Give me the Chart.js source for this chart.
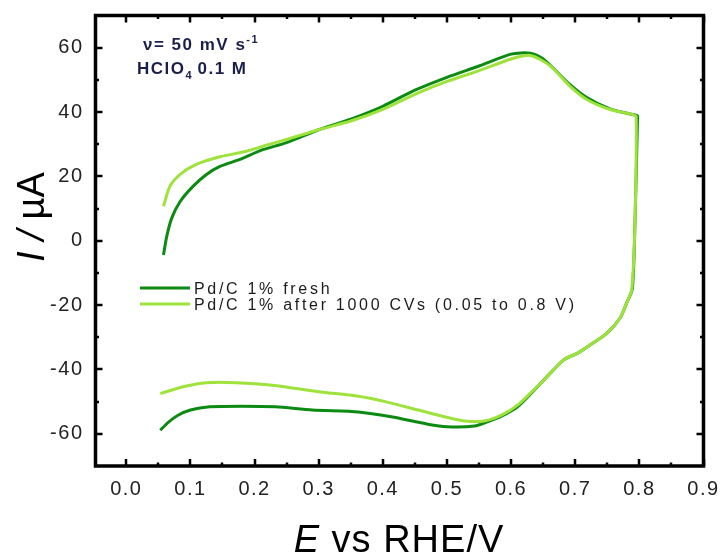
<!DOCTYPE html>
<html>
<head>
<meta charset="utf-8">
<script src="https://cdn.jsdelivr.net/npm/chart.js@4.4.1/dist/chart.umd.min.js"></script>
<style>
  html, body { margin: 0; padding: 0; background: #fff; }
  #wrap { width: 724px; height: 556px; }
</style>
</head>
<body>
<div id="wrap"><canvas id="cv" width="724" height="556"></canvas></div>
<script>
// potential (V vs RHE) and current (uA), anodic sweep then cathodic sweep
var freshE = [0.058, 0.063, 0.071, 0.084, 0.104, 0.125, 0.146, 0.176, 0.213, 0.25, 0.30, 0.35, 0.40, 0.45, 0.50, 0.55, 0.60, 0.63, 0.65, 0.692, 0.718, 0.754, 0.79, 0.797, 0.797,
  0.793, 0.789, 0.78, 0.77, 0.749, 0.723, 0.703, 0.682, 0.65, 0.61, 0.585, 0.563, 0.543, 0.50, 0.47, 0.413, 0.362, 0.29, 0.233, 0.18, 0.13, 0.10, 0.08, 0.065, 0.053];
var freshI = [-4.4, 1.3, 7.1, 12.2, 16.9, 20.6, 23.1, 25.2, 28.3, 30.5, 34.5, 37.8, 41.8, 46.8, 50.8, 54.3, 58.0, 58.3, 56.5, 48.5, 44.5, 41.0, 39.2, 38.8, 37.0,
  4.5, -15.0, -19.4, -24.0, -28.8, -32.4, -35.0, -37.0, -43.5, -51.6, -54.5, -56.3, -57.6, -57.8, -57.0, -54.7, -53.2, -52.6, -51.6, -51.4, -51.6, -52.6, -54.3, -56.5, -58.9];

var agedE = [0.058, 0.068, 0.084, 0.109, 0.146, 0.187, 0.22, 0.25, 0.30, 0.35, 0.40, 0.45, 0.50, 0.548, 0.60, 0.63, 0.66, 0.692, 0.718, 0.754, 0.79, 0.795,
  0.793, 0.788, 0.78, 0.77, 0.749, 0.723, 0.703, 0.682, 0.65, 0.61, 0.585, 0.558, 0.527, 0.496, 0.455, 0.404, 0.362, 0.30, 0.228, 0.171, 0.125, 0.09, 0.053];
var agedI = [10.7, 16.9, 20.6, 23.7, 26.1, 27.8, 29.8, 31.5, 34.5, 37.2, 40.8, 45.5, 49.5, 52.7, 56.5, 57.6, 54.5, 48.0, 43.9, 40.8, 39.2, 38.5,
  4.5, -15.3, -19.4, -24.0, -28.8, -32.4, -35.0, -37.0, -43.5, -51.1, -54.2, -56.0, -56.0, -54.7, -52.6, -50.0, -48.3, -46.9, -44.9, -44.1, -44.1, -45.3, -47.5];

var xTicks = [0.0, 0.1, 0.2, 0.3, 0.4, 0.5, 0.6, 0.7, 0.8, 0.9];
var yTicks = [-60, -40, -20, 0, 20, 40, 60];
var seriesNames = ['Pd/C 1% fresh', 'Pd/C 1% after 1000 CVs (0.05 to 0.8 V)'];

var DARK = '#0c8a12';
var LIGHT = '#9ee33c';
var FONT = '"Liberation Sans", Arial, sans-serif';

function pts(xs, ys) {
  var out = [];
  for (var i = 0; i < xs.length; i++) out.push({ x: xs[i], y: ys[i] });
  return out;
}

var overlay = {
  id: 'overlay',
  beforeDraw: function(chart) {
    chart.ctx.letterSpacing = '1.5px';   // spaced tick labels like the original
  },
  beforeDatasetsDraw: function(chart) {
    chart.ctx.letterSpacing = '0px';
  },
  afterDatasetsDraw: function(chart) {
    var ctx = chart.ctx, a = chart.chartArea;
    var sx = chart.scales.x, sy = chart.scales.y;
    ctx.save();
    ctx.strokeStyle = '#000';
    ctx.lineWidth = 2.5;
    // inward ticks on all four sides
    for (var v = 0; v <= 0.9001; v += 0.05) {
      var px = Math.round(sx.getPixelForValue(v));
      var len = (Math.round(v * 100) % 10 === 0) ? 7 : 3.5;
      ctx.beginPath();
      ctx.moveTo(px, a.bottom); ctx.lineTo(px, a.bottom - len);
      ctx.moveTo(px, a.top); ctx.lineTo(px, a.top + len);
      ctx.stroke();
    }
    for (var w = -60; w <= 60; w += 10) {
      var py = Math.round(sy.getPixelForValue(w));
      var l2 = (w % 20 === 0) ? 7 : 3.5;
      ctx.beginPath();
      ctx.moveTo(a.left, py); ctx.lineTo(a.left + l2, py);
      ctx.moveTo(a.right, py); ctx.lineTo(a.right - l2, py);
      ctx.stroke();
    }
    ctx.lineWidth = 3.5;
    ctx.strokeRect(a.left, a.top, a.right - a.left, a.bottom - a.top);
    ctx.restore();
  },
  afterDraw: function(chart) {
    var ctx = chart.ctx;
    ctx.save();
    ctx.textBaseline = 'alphabetic';
    // legend
    var cols = [DARK, LIGHT];
    var rows = [294, 310];
    ctx.font = '16px ' + FONT;
    ctx.letterSpacing = '2.7px';
    for (var i = 0; i < 2; i++) {
      ctx.strokeStyle = cols[i];
      ctx.lineWidth = 3;
      ctx.beginPath();
      ctx.moveTo(140, rows[i] - 6); ctx.lineTo(190, rows[i] - 6);
      ctx.stroke();
      ctx.fillStyle = '#1b1b1b';
      ctx.fillText(seriesNames[i], 194, rows[i]);
    }
    // conditions note
    ctx.fillStyle = '#1a1f4a';
    ctx.font = 'bold 17px ' + FONT;
    ctx.letterSpacing = '1.5px';
    var t1 = '\u03bd= 50 mV s';
    ctx.fillText(t1, 143, 50);
    var w1 = ctx.measureText(t1).width;
    ctx.font = 'bold 11px ' + FONT;
    ctx.fillText('-1', 143 + w1, 43);
    ctx.font = 'bold 17px ' + FONT;
    var t2 = 'HClO';
    ctx.fillText(t2, 137, 74);
    var w2 = ctx.measureText(t2).width;
    ctx.font = 'bold 11px ' + FONT;
    ctx.fillText('4', 137 + w2, 79);
    ctx.font = 'bold 17px ' + FONT;
    ctx.fillText('0.1 M', 137 + w2 + 12, 74);
    // axis titles
    ctx.letterSpacing = '1px';
    ctx.fillStyle = '#000';
    ctx.font = 'italic 38px ' + FONT;
    var e1 = 'E';
    var ew = ctx.measureText(e1).width;
    ctx.font = '38px ' + FONT;
    var e2 = ' vs RHE/V';
    var ew2 = ctx.measureText(e2).width;
    var cx = 399 - (ew + ew2) / 2;
    ctx.font = 'italic 38px ' + FONT;
    ctx.fillText(e1, cx, 552);
    ctx.font = '38px ' + FONT;
    ctx.fillText(e2, cx + ew, 552);

    ctx.letterSpacing = '0px';
    ctx.translate(44, 217);
    ctx.rotate(-Math.PI / 2);
    ctx.font = 'italic 38px ' + FONT;
    var i1 = 'I / ';
    var iw = ctx.measureText(i1).width;
    ctx.font = '38px ' + FONT;
    var i2 = '\u00b5A';
    var iw2 = ctx.measureText(i2).width;
    ctx.font = 'italic 38px ' + FONT;
    ctx.fillText(i1, -(iw + iw2) / 2, 0);
    ctx.font = '38px ' + FONT;
    ctx.fillText(i2, -(iw + iw2) / 2 + iw, 0);
    ctx.restore();
  }
};

new Chart(document.getElementById('cv').getContext('2d'), {
  type: 'scatter',
  data: {
    datasets: [{
      label: seriesNames[1],
      data: pts(agedE, agedI),
      showLine: true,
      borderColor: LIGHT,
      backgroundColor: LIGHT,
      borderWidth: 3,
      pointRadius: 0,
      tension: 0.25
    }, {
      label: seriesNames[0],
      data: pts(freshE, freshI),
      showLine: true,
      borderColor: DARK,
      backgroundColor: DARK,
      borderWidth: 3,
      pointRadius: 0,
      tension: 0.25
    }]
  },
  options: {
    responsive: false,
    animation: false,
    layout: { padding: { left: 0, right: 20.5, top: 15.5, bottom: 0 } },
    plugins: { legend: { display: false }, tooltip: { enabled: false } },
    scales: {
      x: {
        type: 'linear',
        min: -0.048,
        max: 0.9,
        grid: { display: false, drawTicks: false },
        border: { display: false },
        afterBuildTicks: function(s) { s.ticks = xTicks.map(function(v) { return { value: v }; }); },
        afterFit: function(s) { s.height = 90; s.paddingLeft = 0; s.paddingRight = 0; },
        ticks: {
          padding: 11,
          color: '#222',
          font: { family: FONT, size: 20 },
          callback: function(v) { return Number(v).toFixed(1); }
        }
      },
      y: {
        type: 'linear',
        min: -70,
        max: 70,
        grid: { display: false, drawTicks: false },
        border: { display: false },
        afterBuildTicks: function(s) { s.ticks = yTicks.map(function(v) { return { value: v }; }); },
        afterFit: function(s) { s.width = 95.5; s.paddingTop = 0; s.paddingBottom = 0; },
        ticks: {
          padding: 12,
          color: '#222',
          font: { family: FONT, size: 20 }
        }
      }
    }
  },
  plugins: [overlay]
});
</script>
</body>
</html>
